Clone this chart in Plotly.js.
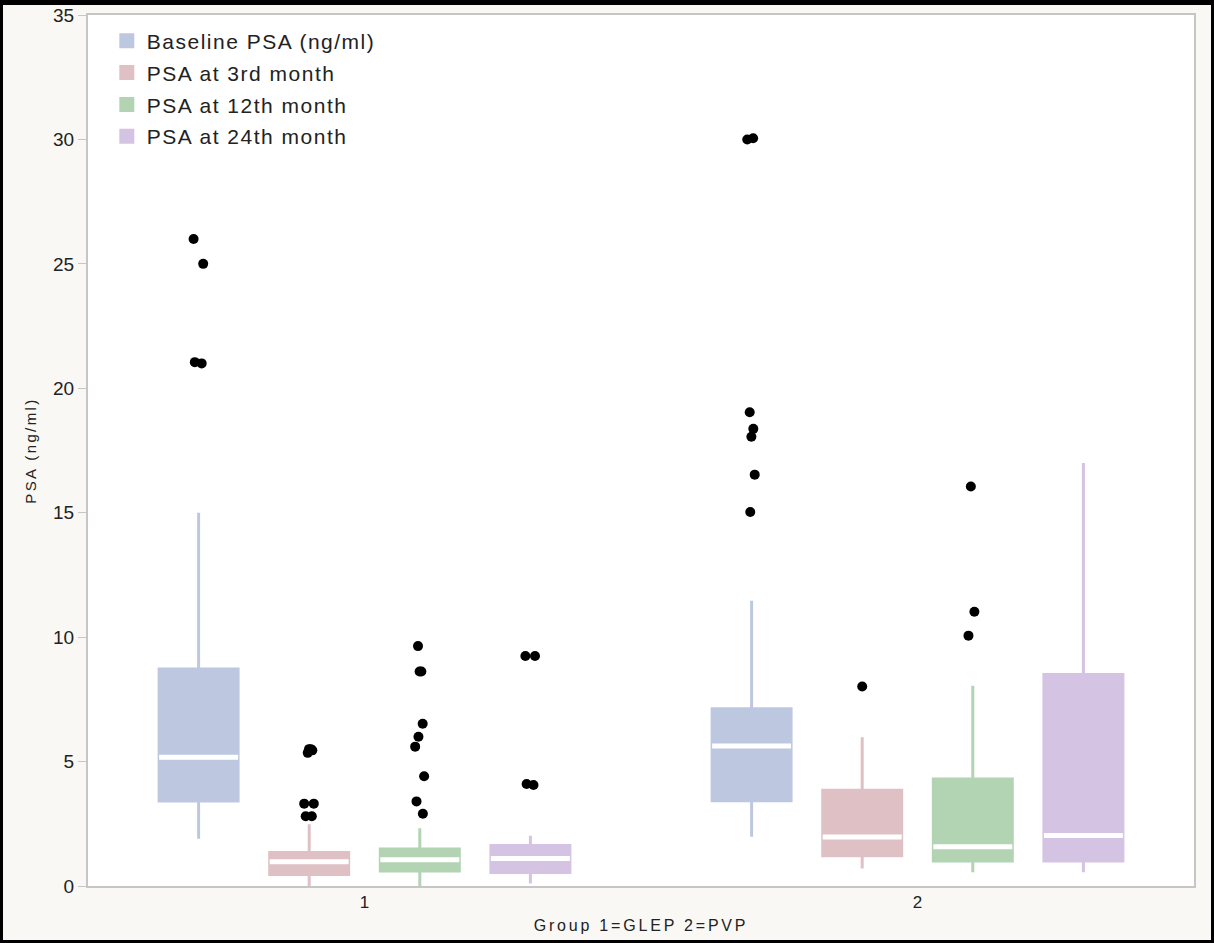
<!DOCTYPE html>
<html>
<head>
<meta charset="utf-8">
<script src="https://cdn.plot.ly/plotly-3.0.1.min.js"></script>
<style>
  html, body { margin: 0; padding: 0; background: #000; }
  #frame { position: absolute; left: 0; top: 0; width: 1214px; height: 943px; background: #000; }
  #chart { position: absolute; left: 3px; top: 0px; width: 1208px; height: 940px; background: #f9f8f4; }
  #topbar { position: absolute; left: 0; top: 0; width: 1214px; height: 5px; background: #000; z-index: 10; }
  #chart .xtitle { letter-spacing: 2.8px; }
  #chart .ytitle { letter-spacing: 2.4px; }
  #chart .legendtext { letter-spacing: 1.5px; }
  #chart .legend, #chart .legend * { clip-path: none !important; }
</style>
</head>
<body>
<div id="frame"><div id="chart"></div><div id="topbar"></div></div>
<script>
// ---- data ----
const categories = ['1', '2'];
const seriesNames = ['Baseline PSA (ng/ml)', 'PSA at 3rd month', 'PSA at 12th month', 'PSA at 24th month'];
const seriesColors = ['#bdc8e0', '#dfc0c5', '#b2d4b3', '#d5c3e3'];

// Baseline PSA
const baselineLower  = [1.9, 1.98];
const baselineQ1     = [3.42, 3.43];
const baselineMedian = [5.17, 5.63];
const baselineQ3     = [8.72, 7.12];
const baselineUpper  = [15.0, 11.46];
const baselineOutliers = [[26.0, 25.0, 21.0, 21.05], [30.0, 30.05, 19.04, 18.37, 18.05, 16.53, 15.03]];

// 3rd month
const m3Lower  = [0.0, 0.7];
const m3Q1     = [0.46, 1.22];
const m3Median = [0.97, 1.97];
const m3Q3     = [1.35, 3.85];
const m3Upper  = [2.48, 5.98];
const m3Outliers = [[5.5, 5.45, 5.35, 5.5, 3.31, 3.31, 2.8, 2.8], [8.02]];

// 12th month
const m12Lower  = [0.0, 0.55];
const m12Q1     = [0.6, 1.0];
const m12Median = [1.05, 1.58];
const m12Q3     = [1.49, 4.3];
const m12Upper  = [2.32, 8.05];
const m12Outliers = [[9.64, 8.62, 8.62, 6.52, 6.0, 5.6, 4.41, 3.4, 2.9], [16.05, 11.02, 10.06]];

// 24th month
const m24Lower  = [0.1, 0.55];
const m24Q1     = [0.54, 1.0];
const m24Median = [1.11, 2.03];
const m24Q3     = [1.63, 8.5];
const m24Upper  = [2.02, 17.0];
const m24Outliers = [[9.24, 9.24, 4.06, 4.1], []];

const yTickVals = [0, 5, 10, 15, 20, 25, 30, 35];

// ---- build traces ----
const stats = [
  [baselineLower, baselineQ1, baselineMedian, baselineQ3, baselineUpper, baselineOutliers],
  [m3Lower, m3Q1, m3Median, m3Q3, m3Upper, m3Outliers],
  [m12Lower, m12Q1, m12Median, m12Q3, m12Upper, m12Outliers],
  [m24Lower, m24Q1, m24Median, m24Q3, m24Upper, m24Outliers]
];

const traces = [];
stats.forEach((s, i) => {
  traces.push({
    type: 'box',
    name: seriesNames[i],
    legendgroup: 'lg' + i,
    x: categories,
    y: s[5],
    lowerfence: s[0], q1: s[1], median: s[2], q3: s[3], upperfence: s[4],
    offsetgroup: 'g' + i,
    fillcolor: seriesColors[i],
    line: { color: seriesColors[i], width: 3 },
    whiskerwidth: 0,
    boxpoints: 'outliers',
    jitter: 0.15,
    pointpos: 0,
    marker: { color: '#000000', size: 10, line: { width: 0 } },
    hoverinfo: 'skip'
  });
});
// white median lines overlaid on each box
stats.forEach((s, i) => {
  traces.push({
    type: 'box',
    name: seriesNames[i] + ' median',
    legendgroup: 'lg' + i,
    x: categories,
    lowerfence: s[2], q1: s[2], median: s[2], q3: s[2], upperfence: s[2],
    offsetgroup: 'g' + i,
    fillcolor: 'rgba(0,0,0,0)',
    line: { color: '#ffffff', width: 5 },
    whiskerwidth: 0,
    boxpoints: false,
    showlegend: false,
    hoverinfo: 'skip'
  });
});

const layout = {
  width: 1208,
  height: 940,
  margin: { l: 85, r: 17, t: 15, b: 54 },
  paper_bgcolor: '#f9f8f4',
  plot_bgcolor: '#ffffff',
  boxmode: 'group',
  boxgap: 0.2,
  boxgroupgap: 0.286,
  font: { family: 'Liberation Sans, Arial, sans-serif', color: '#222222' },
  showlegend: true,
  legend: {
    x: 0.017, y: 0.9935, xanchor: 'left', yanchor: 'top',
    bgcolor: 'rgba(0,0,0,0)',
    font: { size: 21, color: '#222222' },
    traceorder: 'grouped',
    tracegroupgap: 1.5
  },
  xaxis: {
    type: 'category',
    categoryarray: categories,
    range: [-0.5, 1.5],
    showline: true, mirror: true, linecolor: '#c6c6c6', linewidth: 2,
    showgrid: false, zeroline: false,
    ticks: '',
    tickfont: { size: 17, color: '#222222' },
    title: { text: 'Group 1=GLEP 2=PVP', font: { size: 16, color: '#222222' }, standoff: 8 }
  },
  yaxis: {
    range: [0, 35],
    tickvals: yTickVals,
    ticktext: yTickVals.map(String),
    showline: true, mirror: true, linecolor: '#c6c6c6', linewidth: 2,
    showgrid: false, zeroline: false,
    ticks: 'outside', ticklen: 8, tickcolor: '#c6c6c6', tickwidth: 1,
    tickfont: { size: 19, color: '#222222' },
    title: { text: 'PSA (ng/ml)', font: { size: 15, color: '#222222' }, standoff: 13 }
  }
};

Plotly.newPlot('chart', traces, layout, { displayModeBar: false, staticPlot: true });
</script>
</body>
</html>
